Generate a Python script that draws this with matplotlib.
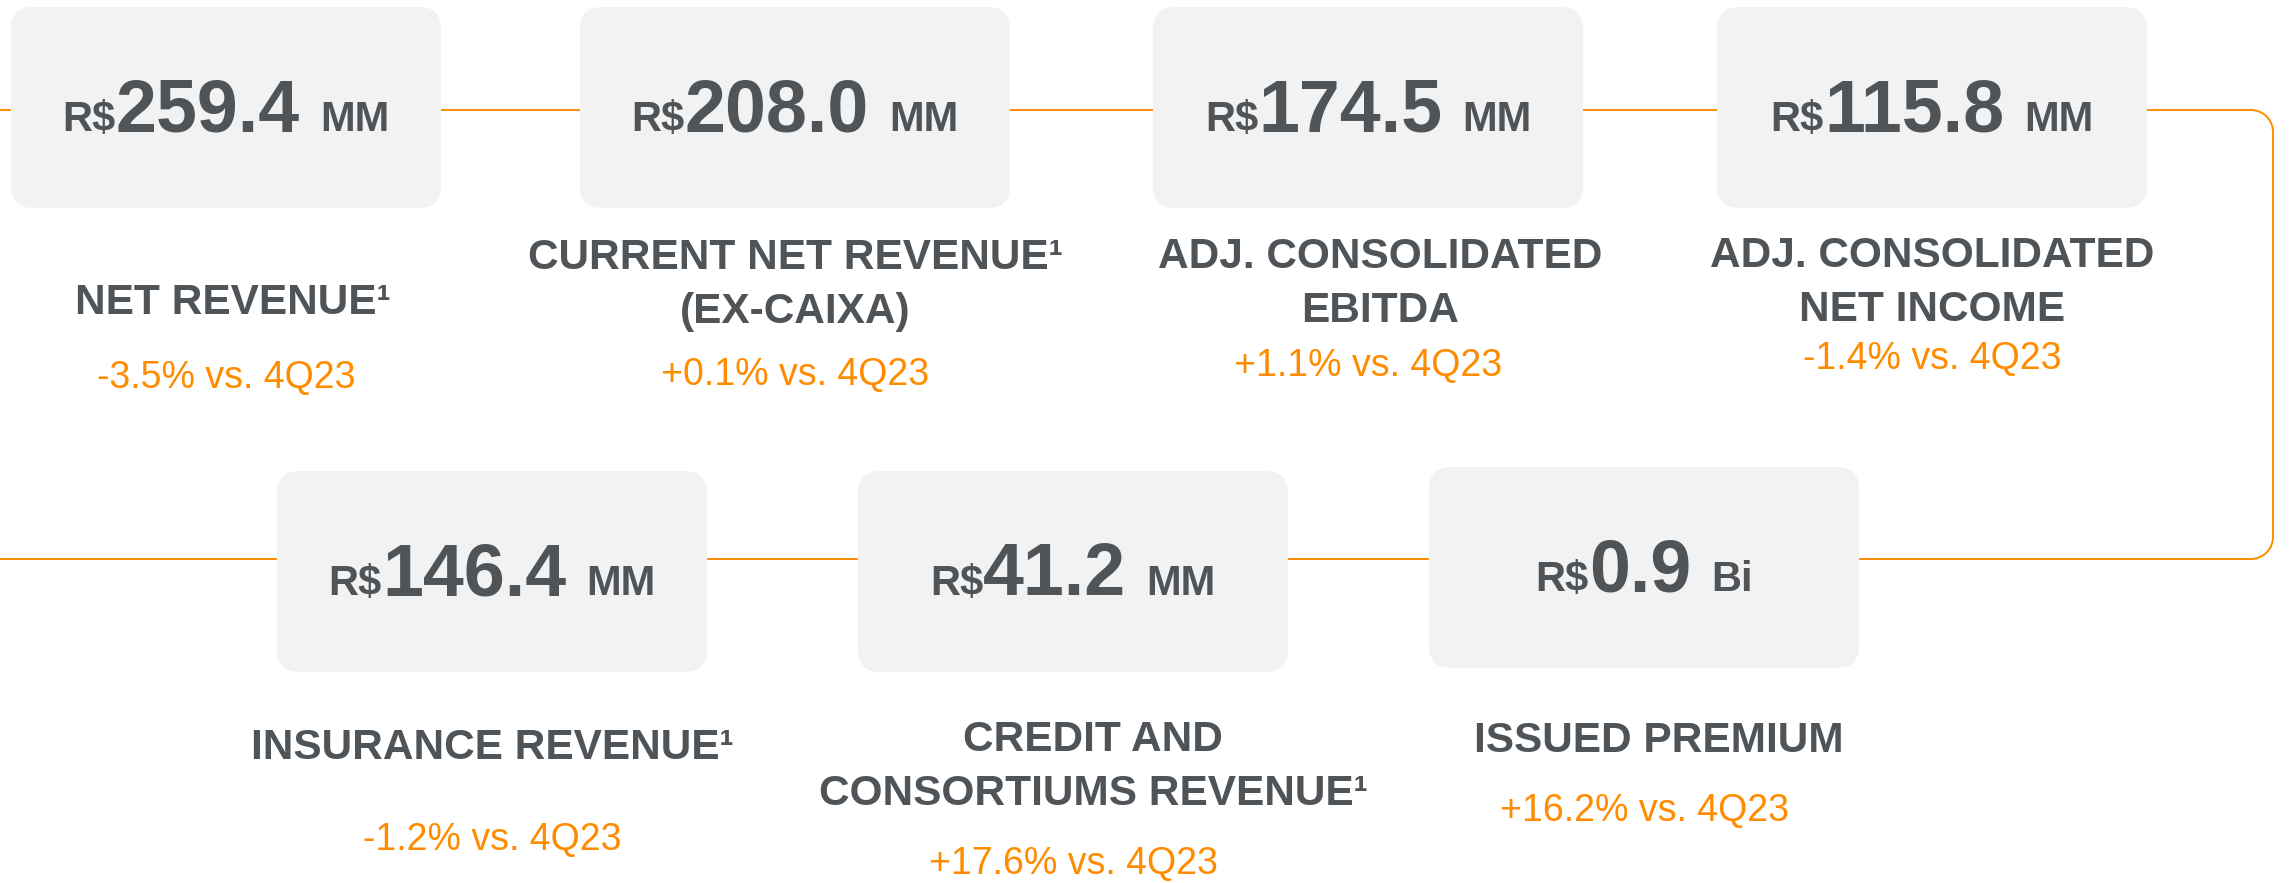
import matplotlib
matplotlib.use('Agg')
import matplotlib.pyplot as plt
from matplotlib.patches import FancyBboxPatch, Arc

plt.rcParams['font.family'] = ['Liberation Sans', 'DejaVu Sans']

# card contents
values = ['259.4', '208.0', '174.5', '115.8', '146.4', '41.2', '0.9']
units = ['MM', 'MM', 'MM', 'MM', 'MM', 'MM', 'Bi']
labels = ['NET REVENUE¹',
          'CURRENT NET REVENUE¹\n(EX-CAIXA)',
          'ADJ. CONSOLIDATED\nEBITDA',
          'ADJ. CONSOLIDATED\nNET INCOME',
          'INSURANCE REVENUE¹',
          'CREDIT AND\nCONSORTIUMS REVENUE¹',
          'ISSUED PREMIUM']
changes = ['-3.5% vs. 4Q23', '+0.1% vs. 4Q23', '+1.1% vs. 4Q23', '-1.4% vs. 4Q23',
           '-1.2% vs. 4Q23', '+17.6% vs. 4Q23', '+16.2% vs. 4Q23']

# layout (pixel coords)
box_cx = [226, 795, 1368, 1932, 492, 1073, 1644]
box_top = [7, 7, 7, 7, 471, 471, 467]
label_dx = [7, 0, 12, 0, 0, 20, 15]
label_y = [303, 285, 284, 283, 748, 767, 741]
change_y = [378, 375, 366, 359, 840, 864, 811]
BOX_W, BOX_H = 430, 201

GREY = '#4f5459'
ORANGE = '#ff8c00'
BOXC = '#f2f2f2'

W, H = 2295, 883
fig = plt.figure(figsize=(W / 100, H / 100), dpi=100)
ax = fig.add_axes([0, 0, 1, 1])
ax.set_xlim(0, W); ax.set_ylim(H, 0); ax.axis('off')
renderer = fig.canvas.get_renderer()

# connector line
r = 22
xr = 2273
y1, y2 = 110, 559
ax.plot([0, xr - r], [y1, y1], color=ORANGE, lw=1.4, zorder=1)
ax.plot([0, xr - r], [y2, y2], color=ORANGE, lw=1.4, zorder=1)
ax.plot([xr, xr], [y1 + r, y2 - r], color=ORANGE, lw=1.4, zorder=1)
ax.add_patch(Arc((xr - r, y1 + r), 2 * r, 2 * r, theta1=270, theta2=360, color=ORANGE, lw=1.4, zorder=1))
ax.add_patch(Arc((xr - r, y2 - r), 2 * r, 2 * r, theta1=0, theta2=90, color=ORANGE, lw=1.4, zorder=1))

for i in range(len(values)):
    cx, top = box_cx[i], box_top[i]
    ax.add_patch(FancyBboxPatch((cx - BOX_W / 2, top), BOX_W, BOX_H,
                                boxstyle='round,pad=0,rounding_size=22',
                                facecolor=BOXC, edgecolor='none', zorder=2))
    base = top + 124
    t1 = ax.text(0, base, 'R$', fontsize=30, fontweight='bold', color=GREY, va='baseline', zorder=3)
    t2 = ax.text(0, base, values[i], fontsize=53, fontweight='bold', color=GREY, va='baseline', zorder=3)
    t3 = ax.text(0, base, units[i], fontsize=30, fontweight='bold', color=GREY, va='baseline', zorder=3)
    w1 = t1.get_window_extent(renderer).width
    w2 = t2.get_window_extent(renderer).width
    w3 = t3.get_window_extent(renderer).width
    gap = 20
    x0 = cx - (w1 + w2 + gap + w3) / 2
    t1.set_x(x0)
    t2.set_x(x0 + w1)
    t3.set_x(x0 + w1 + w2 + gap)

    ax.text(cx + label_dx[i], label_y[i], labels[i], fontsize=30.5, fontweight='bold', color=GREY,
            ha='center', va='center', linespacing=1.47, zorder=3)
    ax.text(cx, change_y[i], changes[i], fontsize=27, color=ORANGE,
            ha='center', va='center', zorder=3)

fig.savefig('out.png', dpi=100, facecolor='white')
